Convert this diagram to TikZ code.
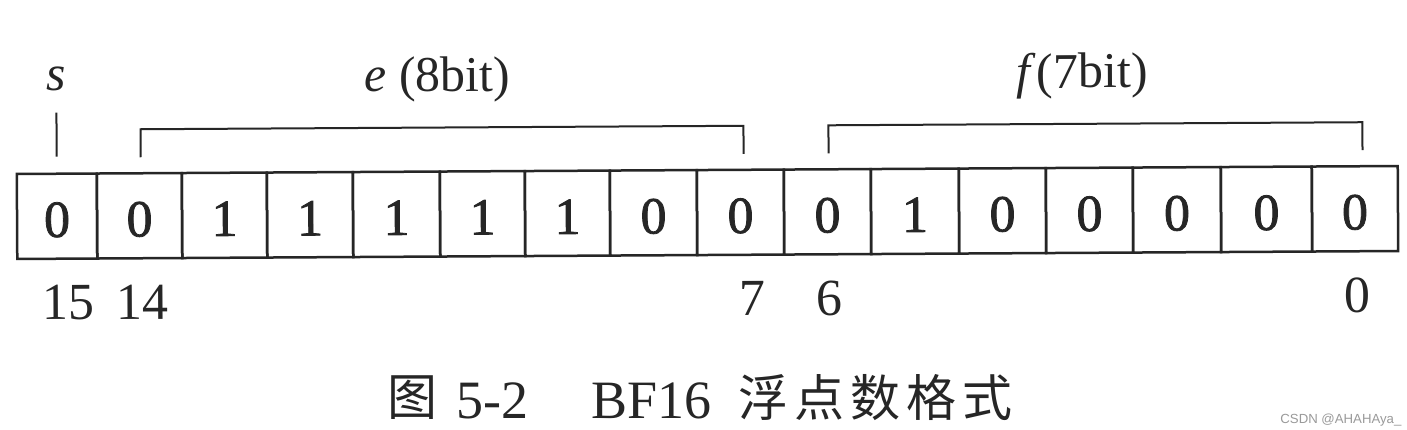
\documentclass[tikz,border=0pt]{standalone}
\usepackage{fontspec}
\setmainfont{Liberation Serif}
\newfontfamily\cellfont[FakeBold=1.5]{Liberation Serif}
\newfontfamily\cjkfont{Noto Sans CJK SC}
\newfontfamily\wmfont{Liberation Sans}
\definecolor{ink}{HTML}{262626}
\definecolor{wmgray}{HTML}{9A9A9A}
\begin{document}
\begin{tikzpicture}[x=0.5pt,y=-0.5pt,
  cell/.style={draw=ink, line width=1.25pt, inner sep=0pt, minimum height=42.5pt,
    text height=20.6pt, text depth=0pt, font=\cellfont\fontsize{26}{26}\selectfont, text=ink},
  bitnum/.style={anchor=base, inner sep=0pt, font=\fontsize{26}{26}\selectfont, text=ink},
  fieldlab/.style={anchor=base, inner sep=0pt, font=\fontsize{25}{25}\selectfont, text=ink},
  bracket/.style={draw=ink, line width=1pt},
  cjk/.style={anchor=center, inner sep=0pt, font=\cjkfont\fontsize{25}{25}\selectfont, text=ink},
  titlelatin/.style={anchor=base, inner sep=0pt, font=\fontsize{27}{27}\selectfont, text=ink},
  watermark/.style={anchor=base west, inner sep=0pt, font=\wmfont\fontsize{6.6}{6.6}\selectfont, text=wmgray}]
\useasboundingbox (0,0) rectangle (1407,429);
\fill[white] (0,0) rectangle (1407,429);
\begin{scope}[rotate around={0.33:(707,213)}, transform shape]
  \foreach \l/\r/\v/\n in {17/97/0/15, 97/182/0/14, 182/267/1/13, 267/353/1/12,
      353/440/1/11, 440/525/1/10, 525/610/1/9, 610/697/0/8, 697/784/0/7,
      784/871/0/6, 871/959/1/5, 959/1046/0/4, 1046/1133/0/3, 1133/1221/0/2,
      1221/1312/0/1, 1312/1398/0/0}
    \node[cell, minimum width={(\r-\l)*0.5pt}] (c\n) at ({(\l+\r)/2},212.5) {\v};
  % bit numbers
  \node[bitnum] (n15) at (68,316) {15};
  \node[bitnum] (n14) at (142,316) {14};
  \node[bitnum] (n7) at (752,316) {7};
  \node[bitnum] (n6) at (829,316) {6};
  \node[bitnum] (n0) at (1357,316) {0};
  % field labels
  \node[fieldlab] (ls) at (57,87) {\textit{s}};
  \node[fieldlab] (le) at (438,90) {\textit{e} (8bit)};
  \node[fieldlab] (lf) at (1083,90) {\textit{f}(7bit)};
  % sign tick and brackets
  \coordinate (sT) at (57,109);
  \coordinate (sB) at (57,153);
  \draw[bracket] (sT) -- (sB);
  \coordinate (eA) at (141,154);
  \coordinate (eB) at (744,154);
  \draw[bracket] (eA) -- ++(0,-28) -| (eB);
  \coordinate (fA) at (829,154);
  \coordinate (fB) at (1363,154);
  \draw[bracket] (fA) -- ++(0,-28) -| (fB);
\end{scope}
% caption
\node[cjk] (t1) at (412.5,397.5) {图};
\node[titlelatin] (t2) at (492.5,418) {5-2};
\node[titlelatin] (t3) at (651.5,418) {BF16};
\node[cjk] (t4) at (875,397.5) {浮\hspace{3pt}点\hspace{3pt}数\hspace{3pt}格\hspace{3pt}式};
\node[watermark] (wm) at (1280,423) {CSDN @AHAHAya\_};
\end{tikzpicture}
\end{document}
